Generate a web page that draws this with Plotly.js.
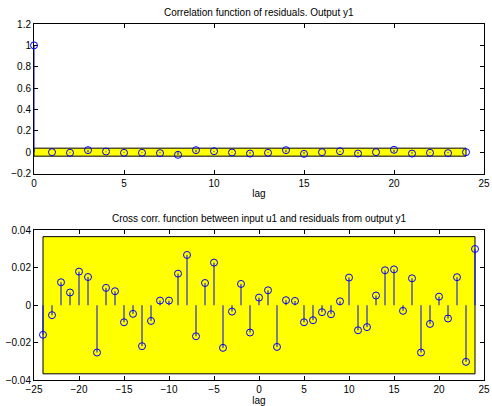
<!DOCTYPE html>
<html><head><meta charset="utf-8">
<script src="https://cdn.plot.ly/plotly-3.0.1.min.js"></script>
<style>html,body{margin:0;padding:0;background:#fff}#plot{width:492px;height:406px}</style>
</head><body><div id="plot"></div>
<script>
// Autocorrelation of residuals (lags 0..24)
const lagsAuto = [0,1,2,3,4,5,6,7,8,9,10,11,12,13,14,15,16,17,18,19,20,21,22,23,24];
const autoCorr = [1.0,0.0,-0.006,0.019,0.006,-0.006,-0.006,-0.009,-0.025,0.019,0.009,-0.003,-0.013,-0.006,0.019,-0.016,0.0,0.009,-0.013,0.0,0.022,-0.013,-0.006,-0.009,0.0];
const autoConf = 0.0375;

// Cross correlation u1 / residuals (lags -24..24)
const lagsCross = [-24,-23,-22,-21,-20,-19,-18,-17,-16,-15,-14,-13,-12,-11,-10,-9,-8,-7,-6,-5,-4,-3,-2,-1,0,1,2,3,4,5,6,7,8,9,10,11,12,13,14,15,16,17,18,19,20,21,22,23,24];
const crossCorr = [-0.0158,-0.0053,0.0123,0.0068,0.018,0.0151,-0.0253,0.0093,0.0075,-0.0091,-0.0046,-0.0219,-0.0084,0.0025,0.0025,
  0.0169,0.0269,-0.0166,0.0119,0.0228,-0.0228,-0.0034,0.0114,-0.0146,0.0041,0.008,-0.0223,0.0027,0.0023,-0.0091,-0.008,-0.0037,
  -0.0048,0.0021,0.0148,-0.0134,-0.0117,0.0052,0.0187,0.0192,-0.003,0.0144,-0.0253,-0.01,0.0046,-0.0071,0.015,-0.0303,0.0301];
const crossConf = 0.0367;

const blue = '#0000ff';
function stems(xs, ys){
  const sx=[], sy=[];
  xs.forEach((x,i)=>{ sx.push(x,x,null); sy.push(0,ys[i],null); });
  return {sx, sy};
}
function band(x0, x1, c){
  return {x:[x0,x1,x1,x0,x0], y:[c,c,-c,-c,c]};
}
const s1 = stems(lagsAuto, autoCorr);
const s2 = stems(lagsCross, crossCorr);
const b1 = band(lagsAuto[0], lagsAuto[lagsAuto.length-1], autoConf);
const b2 = band(lagsCross[0], lagsCross[lagsCross.length-1], crossConf);

const mk = {symbol:'circle-open', size:7, color:blue, line:{color:blue, width:1}};
const traces = [
  {x:b1.x, y:b1.y, xaxis:'x', yaxis:'y', mode:'lines', fill:'toself', fillcolor:'#ffff00', line:{color:'#000', width:1}, hoverinfo:'skip'},
  {x:s1.sx, y:s1.sy, xaxis:'x', yaxis:'y', mode:'lines', line:{color:blue, width:1}, connectgaps:false},
  {x:lagsAuto, y:autoCorr, xaxis:'x', yaxis:'y', mode:'markers', marker:mk, cliponaxis:false},
  {x:b2.x, y:b2.y, xaxis:'x2', yaxis:'y2', mode:'lines', fill:'toself', fillcolor:'#ffff00', line:{color:'#000', width:1}, hoverinfo:'skip'},
  {x:s2.sx, y:s2.sy, xaxis:'x2', yaxis:'y2', mode:'lines', line:{color:blue, width:1}, connectgaps:false},
  {x:lagsCross, y:crossCorr, xaxis:'x2', yaxis:'y2', mode:'markers', marker:mk, cliponaxis:false}
];

const font = {family:'Liberation Sans, Arial, sans-serif', size:10, color:'#000'};
const axBase = {showgrid:false, zeroline:false, showline:true, linecolor:'#000', linewidth:1, mirror:'ticks',
  ticks:'inside', ticklen:4, tickcolor:'#000', tickfont:font, layer:'below traces'};

const layout = {
  width:492, height:406, showlegend:false,
  paper_bgcolor:'#fff', plot_bgcolor:'#fff',
  margin:{l:34, r:8, t:24, b:26},
  font:font,
  xaxis: Object.assign({}, axBase, {domain:[0,1], anchor:'y', range:[0,25], tickvals:[0,5,10,15,20,25],
    title:{text:'lag', font:font, standoff:2}}),
  yaxis: Object.assign({}, axBase, {domain:[0.58,1], anchor:'x', range:[-0.2,1.2], tickvals:[-0.2,0,0.2,0.4,0.6,0.8,1,1.2],
    ticktext:['\u22120.2','0','0.2','0.4','0.6','0.8','1','1.2']}),
  xaxis2: Object.assign({}, axBase, {domain:[0,1], anchor:'y2', range:[-25,25], tickvals:[-25,-20,-15,-10,-5,0,5,10,15,20,25],
    title:{text:'lag', font:font, standoff:2}}),
  yaxis2: Object.assign({}, axBase, {domain:[0,0.42], anchor:'x2', range:[-0.04,0.04], tickvals:[-0.04,-0.02,0,0.02,0.04],
    ticktext:['\u22120.04','\u22120.02','0','0.02','0.04']}),
  annotations:[
    {text:'Correlation function of residuals. Output y1', xref:'paper', yref:'paper', x:0.5, y:1, yshift:4, xanchor:'center', yanchor:'bottom', showarrow:false, font:{family:font.family, size:10, color:'#000'}},
    {text:'Cross corr. function between input u1 and residuals from output y1', xref:'paper', yref:'paper', x:0.5, y:0.42, yshift:4, xanchor:'center', yanchor:'bottom', showarrow:false, font:{family:font.family, size:10, color:'#000'}}
  ]
};
Plotly.newPlot('plot', traces, layout, {staticPlot:true, displayModeBar:false});
</script></body></html>
